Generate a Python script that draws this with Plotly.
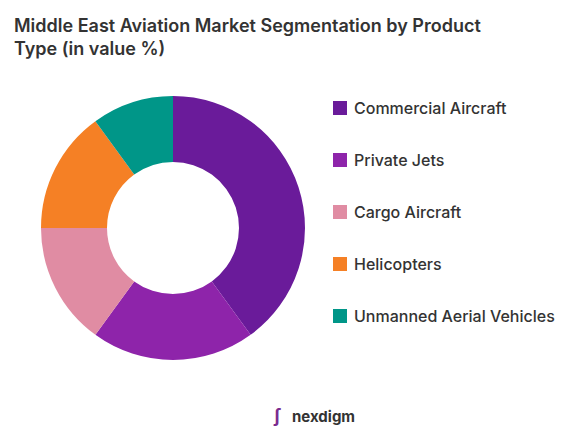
import plotly.graph_objects as go

labels = ["Commercial Aircraft", "Private Jets", "Cargo Aircraft", "Helicopters", "Unmanned Aerial Vehicles"]
values = [40, 20, 15, 15, 10]
colors = ["#6A1B9A", "#8E24AA", "#E08CA3", "#F58025", "#009688"]

W, H = 580, 435
O = 8  # page body offset
fig = go.Figure(go.Pie(
    labels=labels, values=values, hole=0.5, sort=False, direction="clockwise",
    rotation=0, marker=dict(colors=colors), textinfo="none", hoverinfo="label+percent",
    domain=dict(x=[(41 - O) / W, (305 - O) / W], y=[1 - (360 - O) / H, 1 - (96 - O) / H]), showlegend=False
))

annotations = []
shapes = []
for i, (lab, col) in enumerate(zip(labels, colors)):
    yc = 108 + i * 52 - O
    shapes.append(dict(type="rect", xref="paper", yref="paper",
                       x0=(333 - O) / W, x1=(347 - O) / W, y0=1 - (yc + 7) / H, y1=1 - (yc - 7) / H,
                       fillcolor=col, line=dict(width=0)))
    annotations.append(dict(text=lab, x=(352 - O) / W, y=1 - yc / H, xref="paper", yref="paper",
                            xanchor="left", yanchor="middle", showarrow=False,
                            font=dict(size=16, color="#333", weight=500)))

annotations += [
    dict(text="Middle East Aviation Market Segmentation by Product<br>Type (in value %)",
         x=(12 - O) / W, y=1 - (5 - O + 8) / H, xref="paper", yref="paper", align="left",
         showarrow=False, font=dict(size=18, color="#333", weight=600), xanchor="left", yanchor="top"),
    dict(text="<b>nexdigm</b>", x=(290 - O) / W, y=1 - (416 - O) / H, xref="paper", yref="paper",
         showarrow=False, font=dict(size=15, color="#333"), xanchor="left", yanchor="middle"),
    dict(text="<b>ʃ</b>", x=(283 - O) / W, y=1 - (416 - O) / H, xref="paper", yref="paper",
         showarrow=False, font=dict(size=18, color="#7B2C8F"), xanchor="right", yanchor="middle"),
]

fig.update_layout(
    width=W, height=H,
    margin=dict(l=0, r=0, t=0, b=0),
    paper_bgcolor="white",
    font=dict(family="Inter, sans-serif", color="#333"),
    annotations=annotations, shapes=shapes,
)
fig.write_html("out.html")
